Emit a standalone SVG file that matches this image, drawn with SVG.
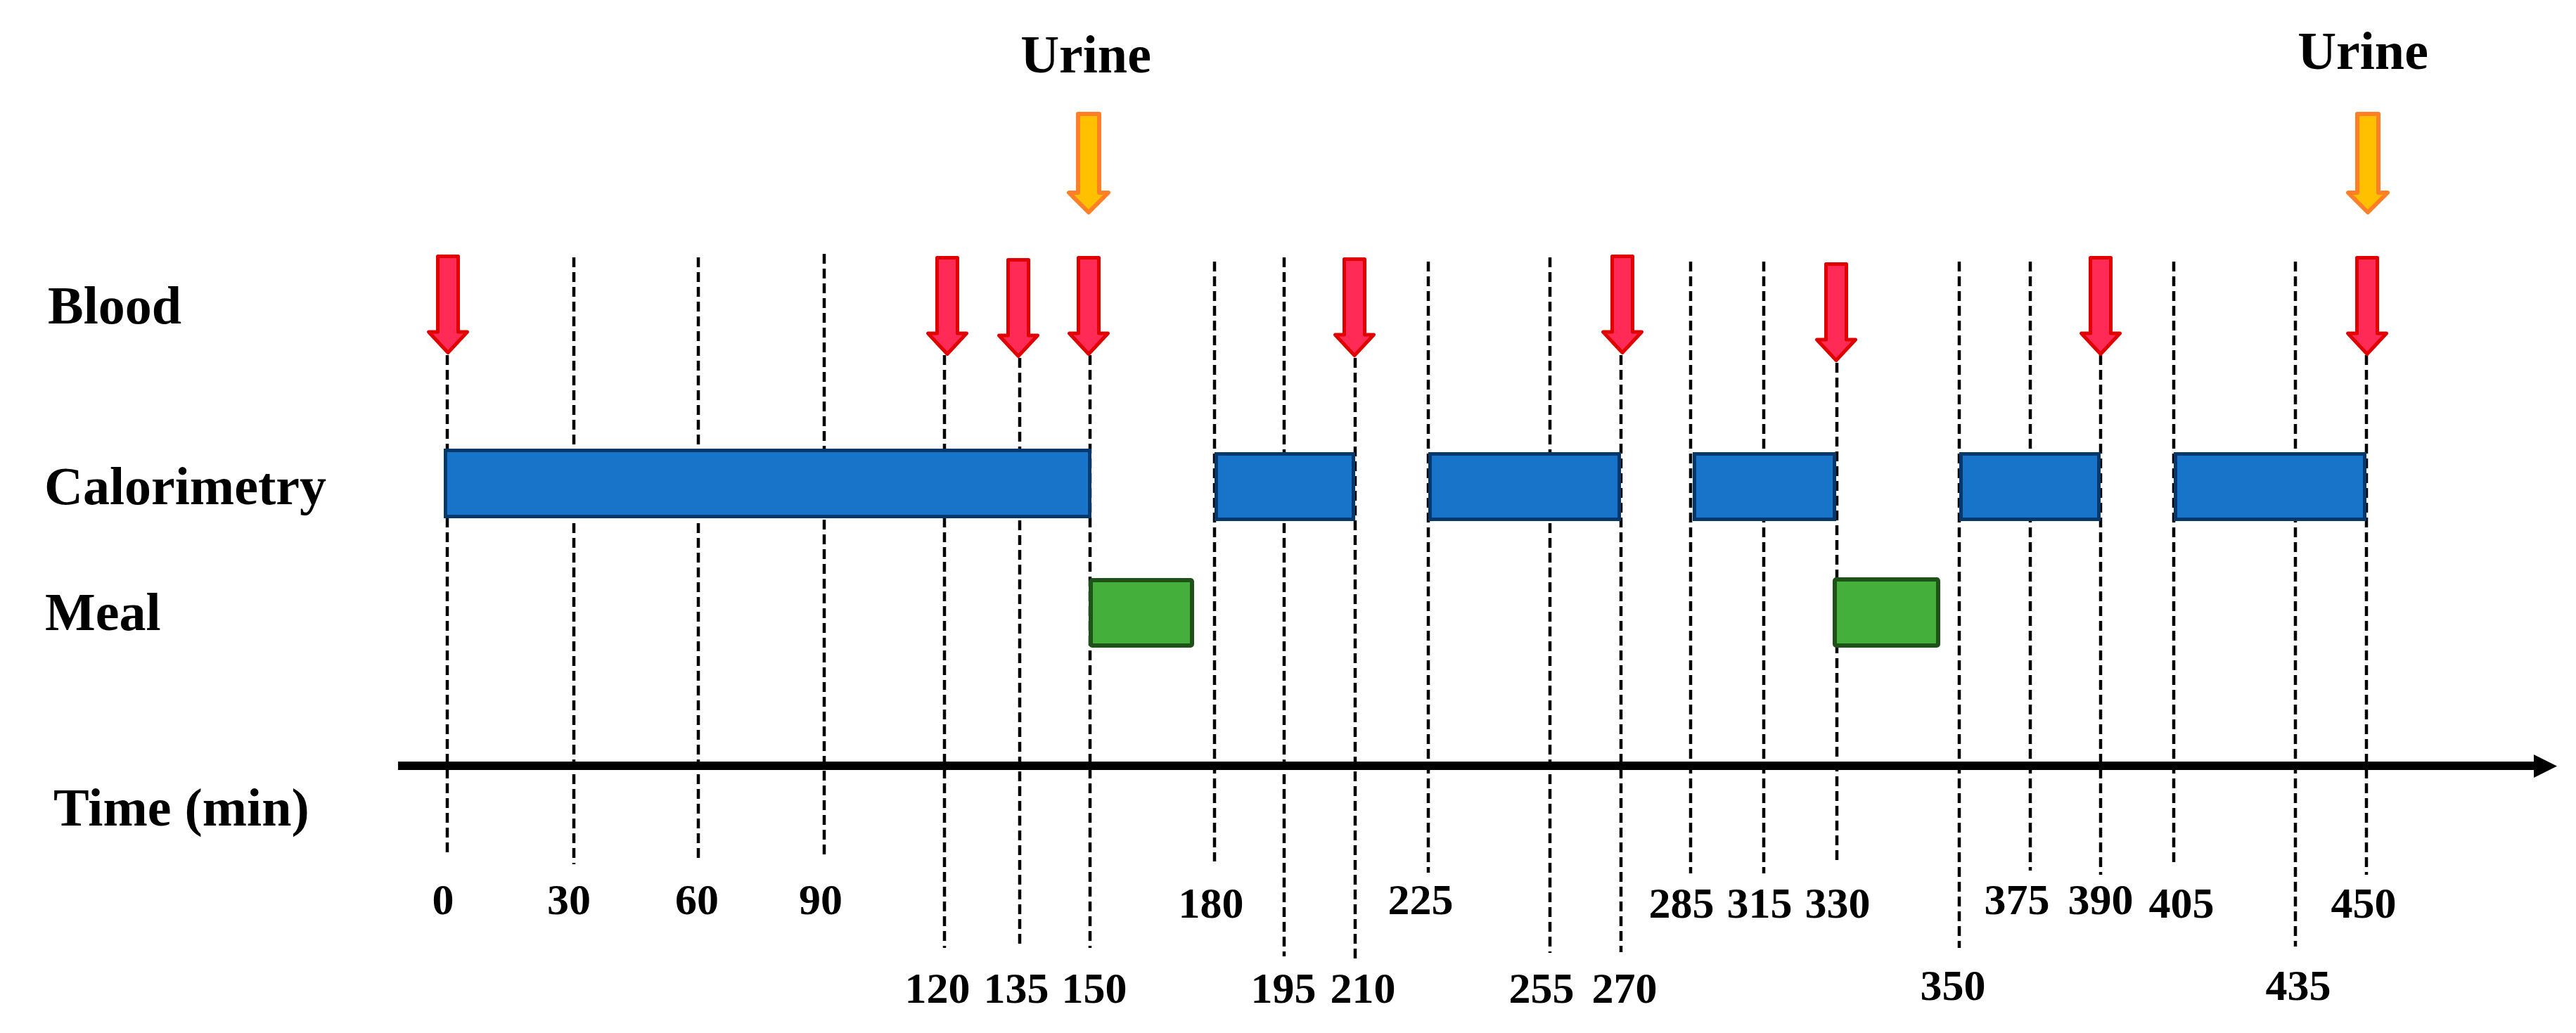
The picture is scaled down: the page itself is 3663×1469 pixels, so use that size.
<svg xmlns="http://www.w3.org/2000/svg" xmlns:xlink="http://www.w3.org/1999/xlink" width="3663" height="1469" viewBox="0 0 3663 1469">
<style>
  .lbl { font-family: "Liberation Serif", "Times New Roman", serif; font-weight: bold; font-size: 76px; fill: #000; }
  .num { font-family: "Liberation Serif", "Times New Roman", serif; font-weight: bold; font-size: 62px; fill: #000; text-anchor: middle; }
  .dash { stroke: #000; stroke-width: 4.5; stroke-dasharray: 14 7; fill: none; }
  .blood { fill: #FF2A56; stroke: #E00000; stroke-width: 5; stroke-linejoin: round; }
  .urine { fill: #FFC000; stroke: #FF7F27; stroke-width: 6; stroke-linejoin: round; }
  .calo { fill: #1874C8; stroke: #03386C; stroke-width: 5; }
  .meal { fill: #45AF3C; stroke: #1E5219; stroke-width: 6; }
</style>
<defs>
  <path id="bloodArrow" d="M-14.5,2.5 H14.5 V110 H27.5 L0,139.5 L-27.5,110 H-14.5 Z"/>
  <path id="urineArrow" d="M-15,3 H15 V115 H28 L0,143 L-28,115 H-15 Z"/>
</defs>
<rect x="0" y="0" width="3663" height="1469" fill="#fff"/>

<g id="connectors">
  <g id="gridlines">
    <line class="dash" x1="636" y1="505" x2="636" y2="1219"/>
    <line class="dash" x1="816" y1="366" x2="816" y2="1229"/>
    <line class="dash" x1="993" y1="366" x2="993" y2="1224"/>
    <line class="dash" x1="1172" y1="361" x2="1172" y2="1219"/>
    <line class="dash" x1="1343" y1="505" x2="1343" y2="1348"/>
    <line class="dash" x1="1450" y1="509" x2="1450" y2="1348"/>
    <line class="dash" x1="1550" y1="505" x2="1550" y2="1348"/>
    <line class="dash" x1="1727" y1="372" x2="1727" y2="1225"/>
    <line class="dash" x1="1826" y1="366" x2="1826" y2="1360"/>
    <line class="dash" x1="1927" y1="509" x2="1927" y2="1363"/>
    <line class="dash" x1="2031" y1="372" x2="2031" y2="1241"/>
    <line class="dash" x1="2204" y1="366" x2="2204" y2="1355"/>
    <line class="dash" x1="2305" y1="505" x2="2305" y2="1354"/>
    <line class="dash" x1="2404" y1="372" x2="2404" y2="1242"/>
    <line class="dash" x1="2508" y1="372" x2="2508" y2="1242"/>
    <line class="dash" x1="2612" y1="516" x2="2612" y2="1228"/>
    <line class="dash" x1="2786" y1="372" x2="2786" y2="1348"/>
    <line class="dash" x1="2887" y1="372" x2="2887" y2="1238"/>
    <line class="dash" x1="2987" y1="505" x2="2987" y2="1244"/>
    <line class="dash" x1="3091" y1="372" x2="3091" y2="1228"/>
    <line class="dash" x1="3264" y1="372" x2="3264" y2="1346"/>
    <line class="dash" x1="3365" y1="505" x2="3365" y2="1244"/>
  </g>
  <g id="time-axis">
    <line x1="566" y1="1089" x2="3606" y2="1089" stroke="#000" stroke-width="12"/>
    <polygon points="3603,1073 3636,1089.5 3603,1106" fill="#000"/>
  </g>
</g>

<g id="row-labels">
  <text id="label-blood" class="lbl" x="68" y="460">Blood</text>
  <text id="label-calorimetry" class="lbl" x="63" y="717">Calorimetry</text>
  <text id="label-meal" class="lbl" x="64" y="896">Meal</text>
  <text id="label-time" class="lbl" x="76" y="1174">Time (min)</text>
</g>

<g id="urine">
  <text class="lbl" x="1544" y="103" text-anchor="middle">Urine</text>
  <text class="lbl" x="3360" y="98" text-anchor="middle">Urine</text>
  <use class="urine" xlink:href="#urineArrow" href="#urineArrow" transform="translate(1548,159)"/>
  <use class="urine" xlink:href="#urineArrow" href="#urineArrow" transform="translate(3367,159)"/>
</g>

<g id="calorimetry">
  <rect class="calo" x="633.5" y="640.5" width="916" height="94"/>
  <rect class="calo" x="1729.5" y="645.5" width="195" height="93"/>
  <rect class="calo" x="2033.5" y="645.5" width="269" height="93"/>
  <rect class="calo" x="2409.5" y="645.5" width="199" height="93"/>
  <rect class="calo" x="2788.5" y="645.5" width="196" height="93"/>
  <rect class="calo" x="3093.5" y="645.5" width="269" height="93"/>
</g>

<g id="meal">
  <rect class="meal" x="1551" y="825" width="144" height="93" rx="2"/>
  <rect class="meal" x="2609" y="824" width="147" height="94" rx="2"/>
</g>

<g id="blood">
  <use class="blood" xlink:href="#bloodArrow" href="#bloodArrow" transform="translate(637,362)"/>
  <use class="blood" xlink:href="#bloodArrow" href="#bloodArrow" transform="translate(1347,364)"/>
  <use class="blood" xlink:href="#bloodArrow" href="#bloodArrow" transform="translate(1448,367)"/>
  <use class="blood" xlink:href="#bloodArrow" href="#bloodArrow" transform="translate(1548,364)"/>
  <use class="blood" xlink:href="#bloodArrow" href="#bloodArrow" transform="translate(1926,366)"/>
  <use class="blood" xlink:href="#bloodArrow" href="#bloodArrow" transform="translate(2307,362)"/>
  <use class="blood" xlink:href="#bloodArrow" href="#bloodArrow" transform="translate(2611,373)"/>
  <use class="blood" xlink:href="#bloodArrow" href="#bloodArrow" transform="translate(2987,364)"/>
  <use class="blood" xlink:href="#bloodArrow" href="#bloodArrow" transform="translate(3366,364)"/>
</g>

<g id="time-labels">
  <text class="num" x="630" y="1300">0</text>
  <text class="num" x="809" y="1300">30</text>
  <text class="num" x="991" y="1300">60</text>
  <text class="num" x="1167" y="1300">90</text>
  <text class="num" x="1722" y="1305">180</text>
  <text class="num" x="2020" y="1300">225</text>
  <text class="num" x="2391" y="1305">285</text>
  <text class="num" x="2502" y="1305">315</text>
  <text class="num" x="2613" y="1305">330</text>
  <text class="num" x="2868" y="1300">375</text>
  <text class="num" x="2987" y="1300">390</text>
  <text class="num" x="3102" y="1305">405</text>
  <text class="num" x="3361" y="1305">450</text>
  <text class="num" x="1333" y="1426">120</text>
  <text class="num" x="1445" y="1426">135</text>
  <text class="num" x="1556" y="1426">150</text>
  <text class="num" x="1825" y="1426">195</text>
  <text class="num" x="1938" y="1426">210</text>
  <text class="num" x="2192" y="1426">255</text>
  <text class="num" x="2310" y="1426">270</text>
  <text class="num" x="2777" y="1422">350</text>
  <text class="num" x="3268" y="1422">435</text>
</g>
</svg>
